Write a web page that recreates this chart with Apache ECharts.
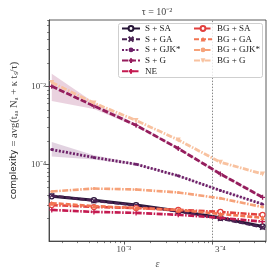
<!DOCTYPE html>
<html><head><meta charset="utf-8">
<script src="https://cdn.jsdelivr.net/npm/echarts@6/dist/echarts.min.js"></script>
<style>html,body{margin:0;padding:0;background:#fff}#c{width:274px;height:274px}</style>
</head><body><div id="c"></div>
<script>
// x values: epsilon = 3^-8 ... 3^-3
const epsilons = [1.5242e-4, 4.5725e-4, 1.3717e-3, 4.1152e-3, 1.2346e-2, 3.7037e-2];
const markerEps = 1.2346e-2;
const names = ['S + SA','S + GA','S + GJK*','S + G','NE','BG + SA','BG + GA','BG + GJK*','BG + G'];
const sSA   = [3.87e-5, 3.45e-5, 2.99e-5, 2.51e-5, 2.05e-5, 1.59e-5];
const sGA   = [3.95e-5, 3.40e-5, 2.95e-5, 2.47e-5, 2.00e-5, 1.55e-5];
const sGJK  = [1.54e-4, 1.22e-4, 1.00e-4, 7.1e-5, 4.6e-5, 3.07e-5];
const sG    = [1.0e-3, 5.6e-4, 3.16e-4, 1.59e-4, 7.5e-5, 3.76e-5];
const ne    = [2.59e-5, 2.44e-5, 2.37e-5, 2.24e-5, 2.05e-5, 1.83e-5];
const bgSA  = [2.99e-5, 2.82e-5, 2.74e-5, 2.59e-5, 2.44e-5, 2.24e-5];
const bgGA  = [3.16e-5, 2.90e-5, 2.74e-5, 2.59e-5, 2.30e-5, 2.05e-5];
const bgGJK = [4.47e-5, 4.87e-5, 4.73e-5, 4.34e-5, 3.65e-5, 2.82e-5];
const bgG   = [1.12e-3, 6.1e-4, 3.65e-4, 2.05e-4, 1.06e-4, 7.5e-5];
// shaded spread bands
const sGLow   = [6.5e-4, 5.1e-4, 3.05e-4, 1.54e-4, 7.3e-5, 3.66e-5];
const sGHigh  = [1.45e-3, 6.2e-4, 3.28e-4, 1.64e-4, 7.7e-5, 3.86e-5];
const sGJKLow = [1.26e-4, 1.15e-4, 0.97e-4, 6.9e-5, 4.5e-5, 3.0e-5];
const sGJKHigh= [1.93e-4, 1.30e-4, 1.03e-4, 7.3e-5, 4.7e-5, 3.14e-5];
// ticks
const xMajor = [1e-3, 1e-2];
const xLabels = [1e-3, markerEps];
const xMinor = [2e-4,3e-4,4e-4,5e-4,6e-4,7e-4,8e-4,9e-4,2e-3,3e-3,4e-3,5e-3,6e-3,7e-3,8e-3,9e-3,2e-2,3e-2,4e-2];
const yMajor = [1e-4, 1e-3];
const yMinor = [2e-5,3e-5,4e-5,5e-5,6e-5,7e-5,8e-5,9e-5,2e-4,3e-4,4e-4,5e-4,6e-4,7e-4,8e-4,9e-4,2e-3,3e-3,4e-3,5e-3,6e-3,7e-3];

const SUP = {'-':'⁻','0':'⁰','1':'¹','2':'²','3':'³','4':'⁴','5':'⁵','6':'⁶','7':'⁷','8':'⁸','9':'⁹'};
const sup = s => String(s).split('').map(c => SUP[c] || c).join('');
function fmt(v) {
  if (Math.abs(v - markerEps) / markerEps < 1e-3) return '3' + sup(-4);
  return '10' + sup(Math.round(Math.log10(v)));
}

const X_PATH = 'path://M0,0L10,10M10,0L0,10';
const P_PATH = 'path://M5,0L5,10M0,5L10,5';
const serif = 'Liberation Serif';

const styles = [
  {c:'#261537', dash:'solid', sym:'circle', open:true, w:3},
  {c:'#4a2353', dash:[5,2], sym:X_PATH, stroke:true, w:2.4},
  {c:'#6e2169', dash:[2,1.6], sym:'circle', w:2.8, size:3},
  {c:'#951d5d', dash:[6,2], sym:P_PATH, stroke:true, w:2.8},
  {c:'#c41a50', dash:[6,1.5,1.5,1.5], sym:P_PATH, stroke:true, w:2.6},
  {c:'#e2403e', dash:[6,1.5,1.5,1.5], sym:'circle', open:true, w:2.6},
  {c:'#f27552', dash:[5,2], sym:'triangle', w:2.6},
  {c:'#f6a27a', dash:[6,1.5,1.5,1.5], sym:'circle', w:2.6, size:3},
  {c:'#f8c2a0', dash:[6,1.5,1.5,1.5], sym:'triangle', rot:180, w:2.8}
];
const seriesData = [sSA, sGA, sGJK, sG, ne, bgSA, bgGA, bgGJK, bgG];

function bandSeries(low, high, color) {
  return {
    type:'custom', silent:true, z:1, clip:true,
    data:[[epsilons[0], high[0]]],
    renderItem: (params, api) => {
      const up = high.map((v,i) => api.coord([epsilons[i], v]));
      const lo = low.map((v,i) => api.coord([epsilons[i], v])).reverse();
      return {type:'polygon', shape:{points: up.concat(lo)}, style:{fill: color}};
    }
  };
}

const series = [
  bandSeries(sGLow, sGHigh, 'rgba(149,29,93,0.2)'),
  bandSeries(sGJKLow, sGJKHigh, 'rgba(110,33,105,0.2)')
];
seriesData.forEach((arr, k) => {
  const s = styles[k];
  const item = s.stroke ? {color:s.c, borderColor:s.c, borderWidth:1.3}
             : s.open ? {color:'#fff', borderColor:s.c, borderWidth:1.2}
             : {color:s.c};
  const ser = {
    name: names[k], type:'line', z: 3 + k,
    data: epsilons.map((e,i) => [e, arr[i]]),
    lineStyle:{color:s.c, width:s.w, type:s.dash, cap:'butt'},
    itemStyle:item,
    symbol:s.sym, symbolSize:s.size || 5, symbolRotate:s.rot || 0,
    showAllSymbol:true
  };
  if (k === 0) {
    ser.markLine = {silent:true, symbol:'none', animation:false,
      lineStyle:{color:'#8a8a8a', type:[1.5,1.5], width:1},
      label:{show:false}, data:[{xAxis: markerEps}]};
  }
  series.push(ser);
});

const axisCommon = {
  type:'log', logBase:10, splitLine:{show:false}
};
const option = {
  animation:false,
  backgroundColor:'#fff',
  title:{text:'τ = 10' + sup(-2), left:152, top:2, textAlign:'center',
    textStyle:{fontFamily:serif, fontSize:10, fontWeight:'normal', color:'#444'}},
  grid:{left:38, right:8, top:20, bottom:27, show:true, borderColor:'#333', borderWidth:0.8},
  xAxis:[
    Object.assign({}, axisCommon, {
      min:1.42e-4, max:4.05e-2, position:'bottom',
      name:'ε', nameLocation:'middle', nameGap:10,
      nameTextStyle:{fontFamily:serif, fontStyle:'italic', fontSize:10, color:'#555'},
      axisLine:{lineStyle:{color:'#333', width:0.8}},
      axisTick:{customValues:xMajor, length:3.5, lineStyle:{color:'#333', width:0.8}},
      axisLabel:{customValues:xLabels, formatter:fmt, fontFamily:serif, fontSize:9, color:'#444', margin:4}
    }),
    Object.assign({}, axisCommon, {
      min:1.42e-4, max:4.05e-2, position:'bottom',
      axisLine:{show:false},
      axisTick:{customValues:xMinor, length:2, lineStyle:{color:'#333', width:0.6}},
      axisLabel:{show:false}
    })
  ],
  yAxis:[
    Object.assign({}, axisCommon, {
      min:1.03e-5, max:7.1e-3, position:'left',
      name:'{a|complexity} {b|= avg(tₐₐ Nₐ + κ tₛ/τ)}', nameLocation:'middle', nameGap:22,
      nameTextStyle:{rich:{a:{fontFamily:'DejaVu Sans', fontSize:9, color:'#222'},
                           b:{fontFamily:serif, fontSize:10.5, color:'#444'}}},
      axisLine:{lineStyle:{color:'#333', width:0.8}},
      axisTick:{customValues:yMajor, length:3.5, lineStyle:{color:'#333', width:0.8}},
      axisLabel:{customValues:yMajor, formatter:fmt, fontFamily:serif, fontSize:9, color:'#444', margin:3}
    }),
    Object.assign({}, axisCommon, {
      min:1.03e-5, max:7.1e-3, position:'left',
      axisLine:{show:false},
      axisTick:{customValues:yMinor, length:2, lineStyle:{color:'#333', width:0.6}},
      axisLabel:{show:false}
    })
  ],
  legend:[
    {data:names.slice(0,5), left:121, top:24, orient:'vertical', itemWidth:18, itemHeight:6, itemGap:1.7,
     z:20, textStyle:{fontFamily:serif, fontSize:9, color:'#222'}, padding:0, selectedMode:false},
    {data:names.slice(5), left:193, top:24, orient:'vertical', itemWidth:18, itemHeight:6, itemGap:1.7,
     z:20, textStyle:{fontFamily:serif, fontSize:9, color:'#222'}, padding:0, selectedMode:false}
  ],
  graphic:[{type:'rect', left:118, top:23, z:10, silent:true,
    shape:{width:144, height:54, r:2},
    style:{fill:'rgba(255,255,255,0.8)', stroke:'#cfcfcf', lineWidth:1}}],
  series: series
};
const chart = echarts.init(document.getElementById('c'), null, {renderer:'canvas'});
chart.setOption(option);
</script></body></html>
